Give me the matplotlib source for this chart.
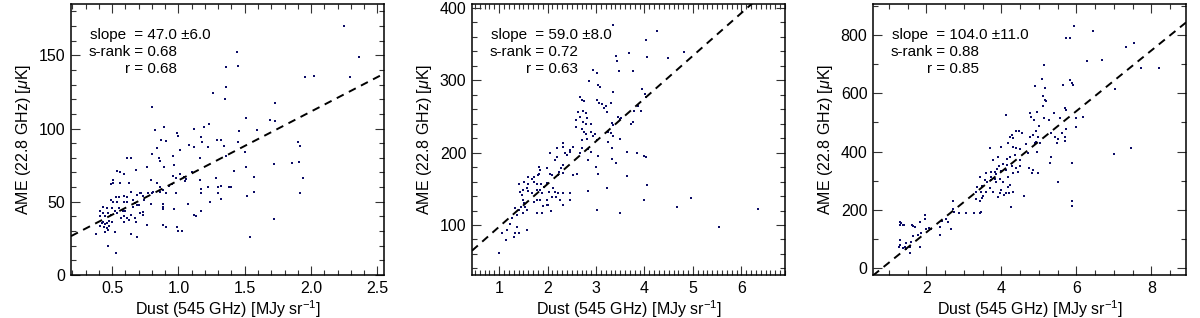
import numpy as np
import matplotlib
matplotlib.use('Agg')
from matplotlib import pyplot as plt
from matplotlib.ticker import MultipleLocator

plt.rcParams['font.family'] = ['Liberation Sans', 'DejaVu Sans']
plt.rcParams['font.size'] = 11
plt.rcParams['mathtext.fontset'] = 'custom'
plt.rcParams['mathtext.rm'] = 'Liberation Sans'
plt.rcParams['mathtext.it'] = 'Liberation Sans:italic'

# panel 1: dust vs AME, low-dust region
dust1 = [2.25, 2.36, 1.445, 1.45, 1.36, 2.29, 1.955, 2.02, 1.26, 1.36, 1.35, 0.80, 1.73,
         1.51, 1.69, 1.73, 0.82, 0.89, 1.12, 1.19, 1.23, 0.99, 1.00, 1.46, 1.59, 1.01,
         1.17, 1.18, 1.08, 1.12, 1.22, 1.29, 1.32, 0.91, 0.87, 0.84, 1.45, 1.90, 1.92,
         0.80, 0.85, 0.86, 0.96, 1.16, 1.36, 1.34, 1.50, 1.72, 1.86, 1.91, 0.61, 0.64,
         0.76, 0.89, 0.97, 1.51, 1.42, 0.68, 0.54, 0.56, 0.59, 1.10, 1.01, 1.06, 1.05,
         0.98, 0.96, 1.04, 1.57, 1.94, 0.51, 0.51, 0.49, 0.56, 0.63, 0.64, 1.16, 1.28,
         0.93, 0.95, 1.22, 1.17, 1.30, 1.32, 1.38, 1.40, 0.79, 0.84, 0.86, 0.88, 0.86,
         0.81, 0.80, 0.77, 0.72, 0.71, 0.69, 0.73, 0.91, 0.98, 1.17, 1.30, 1.32, 1.24,
         1.57, 1.92, 1.52, 1.07, 0.88, 0.88, 0.97, 0.88, 1.17, 1.12, 0.53, 0.55, 0.59,
         0.49, 0.51, 0.54, 0.59, 0.61, 0.66, 0.67, 0.66, 0.69, 0.70, 0.74, 0.79, 0.61,
         0.43, 0.46, 0.50, 0.55, 0.52, 0.47, 0.43, 0.41, 0.41, 0.45, 0.49, 0.54, 0.58,
         0.60, 0.59, 0.61, 0.64, 0.67, 0.71, 0.73, 0.73, 0.42, 0.43, 0.45, 0.46, 0.48,
         0.50, 0.41, 0.44, 0.46, 0.48, 0.47, 0.45, 0.38, 0.57, 0.59, 0.63, 0.52, 0.68,
         0.76, 0.88, 0.91, 0.64, 0.69, 0.99, 1.00, 1.03, 1.13, 0.47, 0.53, 1.54, 1.72]
ame1 = [170, 149, 152, 143, 142, 135, 135, 136, 124, 128, 120, 115, 117.5,
        107, 106, 105, 99, 101, 99.5, 101, 103, 96.6, 95, 98, 99, 85,
        94, 91, 89, 87.5, 87.5, 92, 92.5, 91.6, 92, 87, 91, 91, 88,
        82.5, 80, 78, 81, 80, 81, 88, 84, 76, 76.6, 77, 80, 80,
        73.6, 74, 75, 74, 70.7, 72, 71, 70, 69, 70.5, 69, 65.5, 64,
        66, 67.5, 67, 67, 66, 65, 62.5, 62, 63, 63, 57, 65, 66,
        61, 62, 60, 59, 60, 61, 60, 60, 65, 62.5, 60, 58, 57,
        57, 56, 56, 56, 56, 54.5, 54, 56, 56, 56, 56, 52, 50,
        57, 56, 54, 48.4, 48.4, 46.6, 45, 45, 44, 41, 53, 53, 54,
        51, 50, 50, 50, 49.5, 51, 49, 46.6, 47.7, 48, 51, 48.4, 53,
        46.6, 45.5, 45.5, 45.5, 44, 42, 42, 44, 40, 40, 41, 42, 44,
        44, 40, 39, 41, 39, 42, 41, 43, 35.7, 36, 35, 35.7, 37,
        36, 33.4, 33, 32, 33.4, 30.7, 29.5, 27.7, 38.6, 36, 37.5, 29.5, 36,
        33.9, 34, 33, 27.7, 26, 33, 30, 30, 40.5, 19.8, 15.2, 26, 38]

# panel 2
dust2 = [3.34, 4.26, 4.04, 3.42, 3.43, 3.68, 4.05, 4.49, 4.81, 2.94, 3.03, 3.48, 3.76,
         2.86, 3.04, 3.08, 3.36, 3.94, 2.67, 2.71, 3.01, 3.06, 3.13, 3.16, 3.30, 4.02,
         4.04, 2.75, 2.74, 2.80, 2.63, 3.22, 3.20, 3.78, 3.87, 3.92, 2.67, 2.82, 2.74,
         2.79, 2.89, 2.58, 2.58, 2.70, 2.75, 2.80, 2.89, 2.82, 2.72, 2.94, 2.98, 3.01,
         3.32, 3.35, 3.46, 3.49, 3.52, 3.73, 3.30, 3.35, 3.25, 3.49, 2.53, 2.46, 2.47,
         2.41, 2.70, 2.84, 2.90, 2.67, 2.36, 2.32, 2.32, 2.19, 2.06, 2.20, 2.15, 2.84,
         3.04, 3.32, 3.63, 3.42, 3.85, 4.00, 3.00, 3.04, 2.60, 2.53, 2.32, 2.28, 2.24,
         2.32, 2.22, 2.10, 2.05, 1.98, 1.83, 1.84, 1.83, 1.81, 1.71, 1.67, 1.71, 1.78,
         1.86, 1.93, 1.98, 1.60, 1.57, 1.50, 1.59, 1.67, 1.78, 1.84, 1.88, 2.02, 2.12,
         2.15, 2.22, 2.32, 2.46, 2.17, 2.26, 2.47, 2.10, 2.84, 1.98, 1.84, 1.78, 1.71,
         1.98, 1.91, 2.01, 2.31, 2.08, 1.78, 1.88, 1.59, 1.51, 1.40, 1.43, 1.47, 1.49,
         1.51, 1.53, 1.57, 1.50, 1.45, 1.40, 1.36, 1.33, 1.26, 1.23, 1.17, 1.36, 1.33,
         1.31, 1.40, 1.58, 1.05, 1.14, 1.00, 3.01, 3.22, 3.49, 3.63, 4.00, 4.05, 4.04,
         4.95, 4.67, 5.53, 6.34, 3.32, 3.25, 3.76]
ame2 = [375.6, 368, 356, 333, 327, 337, 332, 331, 339, 313.6, 310, 312, 313,
        299, 293, 290, 284, 288, 277, 273, 273, 269, 267, 262, 268, 280.5,
        277, 271, 258, 254, 256, 256, 264, 258, 264, 258, 249, 247, 242,
        239, 240, 245, 235.5, 233, 228.6, 226, 228.6, 219, 217, 222.6, 226, 217,
        241, 238, 249, 246, 248, 240, 227, 222.6, 228.6, 219, 208, 204, 201,
        196.5, 205.6, 204.7, 201, 199, 199, 212.5, 208, 205.6, 199.7, 194, 189.6, 189.6,
        195, 191, 201, 185, 198.8, 195, 180, 171, 171, 169, 182.7, 178, 173.5,
        172, 169, 169, 171, 178, 180, 176, 171, 169, 166.6, 164, 159.7, 157,
        157, 152.8, 158, 157, 150.5, 148, 147, 144.5, 148, 148, 143.6, 146, 150.5,
        146, 143.6, 144.5, 143.6, 138, 134.5, 134.5, 139, 147, 134.5, 134.5, 135, 132,
        127.6, 126, 127.6, 127.6, 120, 116, 116, 166.6, 159.7, 156.5, 146, 141, 134.5,
        130, 125, 120.7, 116, 125, 120.7, 113.8, 123, 109, 102, 93, 97.7, 88.5,
        84, 89, 93, 88.5, 79, 62, 120.7, 151, 116, 167.5, 134.5, 154.7, 194,
        137.7, 125, 97.7, 121.6, 205.6, 215, 241.5]

# panel 3
dust3 = [5.93, 6.44, 5.71, 5.82, 7.32, 7.54, 6.27, 6.67, 7.73, 8.20, 5.14, 5.08, 5.84,
         5.87, 5.91, 5.63, 4.89, 5.17, 7.02, 5.11, 5.16, 5.20, 5.10, 5.69, 5.73, 4.12,
         4.76, 4.95, 5.40, 4.79, 4.87, 5.13, 5.27, 5.56, 5.98, 6.18, 5.00, 4.93, 6.00,
         5.73, 4.40, 4.47, 4.29, 4.30, 4.56, 4.84, 4.98, 4.76, 5.42, 5.51, 5.62, 5.69,
         5.33, 4.22, 4.18, 5.69, 5.02, 4.89, 5.47, 4.67, 3.98, 4.30, 4.40, 4.49, 3.69,
         4.93, 4.96, 4.71, 5.31, 7.00, 7.45, 5.29, 4.15, 4.22, 4.36, 4.49, 4.04, 4.15,
         4.29, 3.94, 4.13, 4.38, 4.49, 3.78, 3.91, 4.00, 3.82, 3.87, 3.72, 3.60, 3.73,
         3.42, 3.56, 3.63, 3.73, 3.82, 3.87, 3.96, 4.04, 4.18, 4.31, 4.44, 4.84, 4.98,
         4.82, 4.74, 4.24, 4.18, 4.12, 4.21, 4.31, 4.00, 3.96, 4.06, 3.91, 3.78, 3.69,
         3.60, 3.49, 3.35, 3.32, 3.47, 3.51, 3.33, 3.42, 3.49, 3.26, 3.47, 3.42, 3.07,
         2.87, 2.73, 2.71, 2.71, 2.52, 2.43, 2.58, 2.67, 2.36, 2.36, 2.13, 2.07, 2.00,
         1.96, 1.96, 1.87, 1.78, 1.84, 1.69, 1.64, 1.60, 1.56, 1.47, 1.42, 1.38, 1.56,
         1.38, 1.33, 1.29, 1.29, 1.40, 1.61, 1.64, 1.29, 1.31, 1.27, 1.45, 1.82, 4.27,
         4.60, 5.51, 5.87, 5.87, 5.89, 3.89]
ame3 = [832, 815, 791, 791, 760, 771, 711, 714, 688, 688, 697, 649, 646,
        634, 629, 629, 626, 617, 614, 589, 577, 575, 557, 549, 543, 526,
        534, 537, 531, 520, 509, 514, 509, 514, 514, 518, 488, 472, 486,
        477, 472, 469, 457, 446, 463, 457, 449, 449, 451, 442, 463, 449,
        465, 451, 431, 438, 431, 431, 429, 426, 417, 417, 411, 408, 414,
        434, 400, 394, 383, 391, 412, 362, 374, 383, 389, 371, 357, 354,
        351, 349, 337, 343, 349, 371, 383, 334, 331, 322, 331, 328, 314,
        314, 303, 297, 303, 305, 297, 305, 297, 314, 326, 331, 337, 326,
        326, 343, 286, 280, 259, 259, 263, 269, 257, 251, 246, 263, 274,
        263, 282, 280, 263, 263, 248, 237, 229, 240, 189, 192, 189, 189,
        191, 194, 229, 202, 168, 163, 158, 134, 143, 114, 134, 139, 134,
        182, 170, 120, 114, 157, 143, 109, 89, 74, 88, 74, 69, 54,
        147, 154, 160, 149, 149, 149, 145, 80, 97, 74, 65, 74, 211,
        249, 297, 229, 214, 360, 339]

xlims = [(0.19, 2.55), (0.44, 6.9), (0.58, 8.92)]
ylims = [(0, 185), (31, 405), (-23, 906)]
slopes = [47.0, 59.0, 104.0]
slope_errs = [6.0, 8.0, 11.0]
intercepts = [17.6, 38.6, -85.0]
sranks = [0.68, 0.72, 0.88]
rvals = [0.68, 0.63, 0.85]
xmajor = [0.5, 1, 2]
xminor = [0.1, 0.1, 0.5]
ymajor = [50, 100, 200]
yminor = [10, 20, 100]

fig = plt.figure(figsize=(12, 3.18), dpi=100)
lefts = [71, 472, 873]
xs = [dust1, dust2, dust3]
ys = [ame1, ame2, ame3]

for i in range(3):
    ax = fig.add_axes([lefts[i] / 1200, 43 / 318, 313 / 1200, 271 / 318])
    ax.plot(xs[i], ys[i], 's', color='#0c0c66', ms=2.0, mew=0)

    # fitted line
    xx = np.array(xlims[i])
    ax.plot(xx, intercepts[i] + slopes[i] * xx, '--', color='black', lw=1.4,
            dashes=(4, 3))

    ax.set_xlim(*xlims[i])
    ax.set_ylim(*ylims[i])
    ax.xaxis.set_major_locator(MultipleLocator(xmajor[i]))
    ax.xaxis.set_minor_locator(MultipleLocator(xminor[i]))
    ax.yaxis.set_major_locator(MultipleLocator(ymajor[i]))
    ax.yaxis.set_minor_locator(MultipleLocator(yminor[i]))
    ax.tick_params(which='both', direction='in', top=True, right=True, width=0.8,
                   colors='#333333', labelcolor='black', labelsize=11.5)
    ax.tick_params(which='major', length=6.5, pad=4)
    ax.tick_params(which='minor', length=3.5)
    for sp in ax.spines.values():
        sp.set_linewidth(1.1)

    ax.set_xlabel('Dust (545 GHz) [MJy sr$^{-1}$]', fontsize=11.5, labelpad=2)
    ax.set_ylabel('AME (22.8 GHz) [$\\mu$K]', fontsize=11.5, labelpad=4)

    tx_eq = 0.19
    ty = 0.885
    dy = 0.062
    ax.text(tx_eq, ty, 'slope ', transform=ax.transAxes, ha='right', va='center', fontsize=11)
    ax.text(tx_eq, ty, ' = %.1f \u00b1%.1f' % (slopes[i], slope_errs[i]),
            transform=ax.transAxes, ha='left', va='center', fontsize=11)
    ax.text(tx_eq, ty - dy, 's-rank', transform=ax.transAxes, ha='right', va='center', fontsize=11)
    ax.text(tx_eq, ty - dy, ' = %.2f' % sranks[i], transform=ax.transAxes,
            ha='left', va='center', fontsize=11)
    ax.text(tx_eq, ty - 2 * dy, 'r', transform=ax.transAxes, ha='right', va='center', fontsize=11)
    ax.text(tx_eq, ty - 2 * dy, ' = %.2f' % rvals[i], transform=ax.transAxes,
            ha='left', va='center', fontsize=11)

fig.savefig('out.png', dpi=100)
